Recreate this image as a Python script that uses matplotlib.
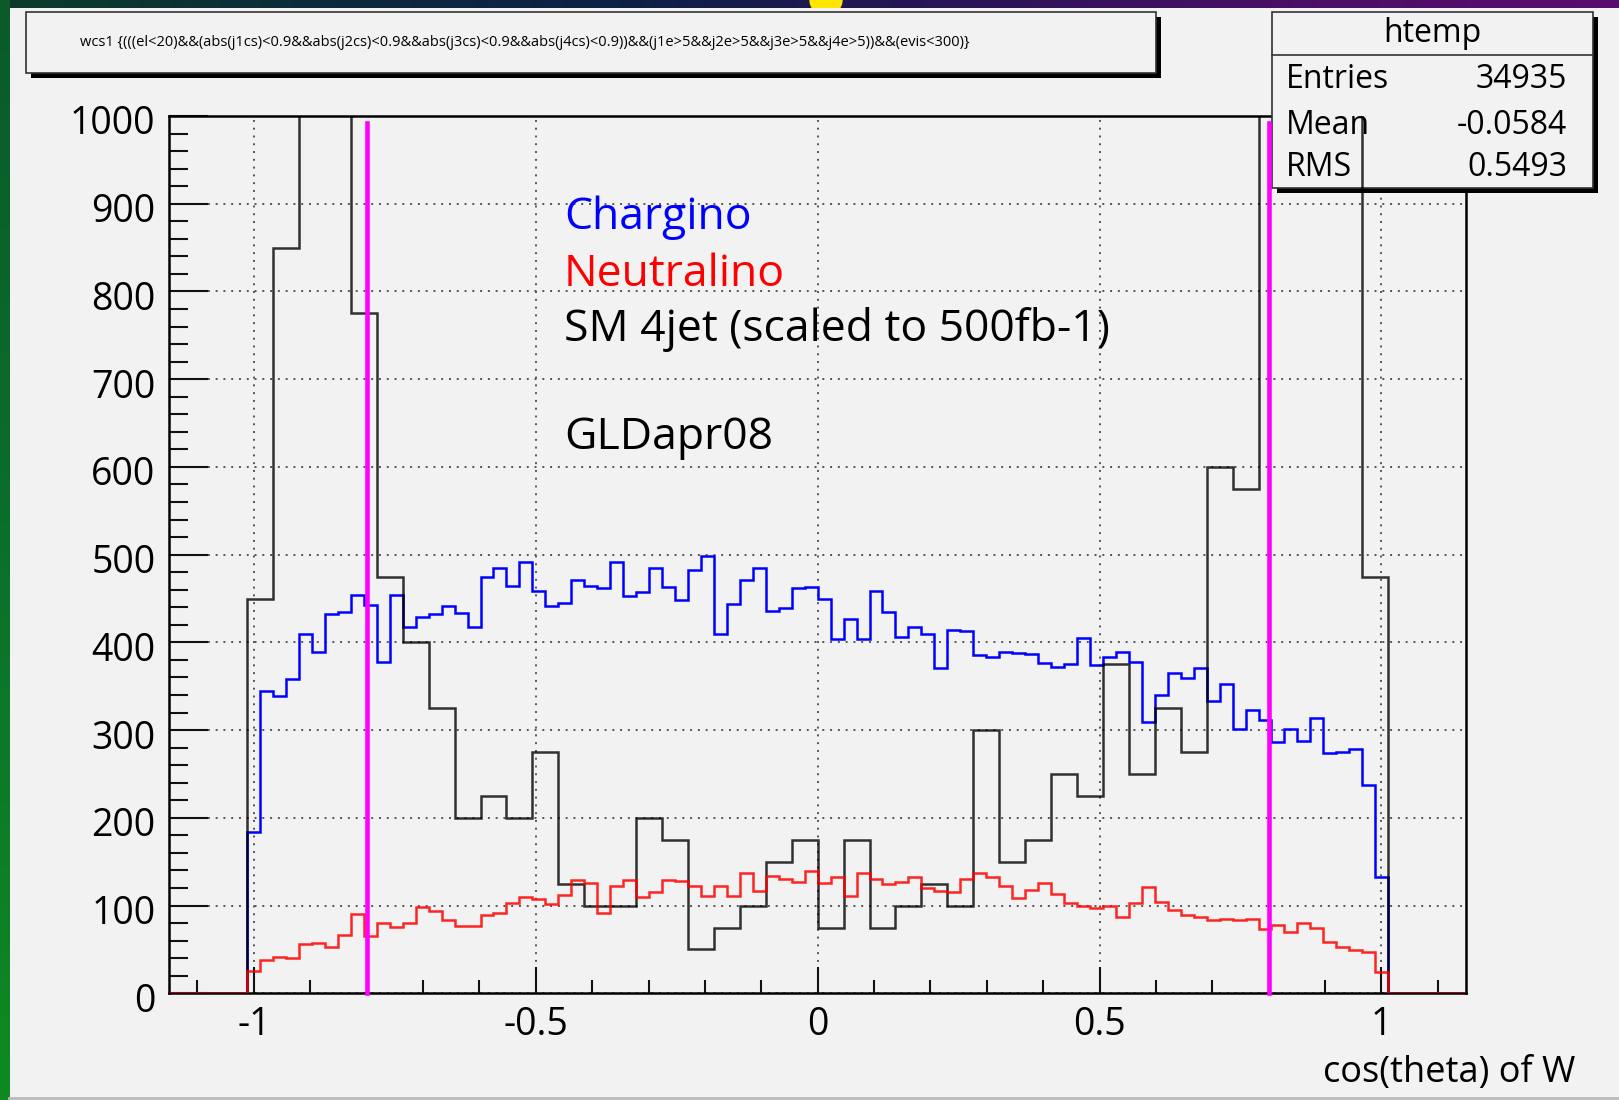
import numpy as np
import matplotlib.pyplot as plt
from matplotlib.patches import Rectangle, Ellipse
from matplotlib.lines import Line2D
from matplotlib.colors import LinearSegmentedColormap
from matplotlib.ticker import MultipleLocator
from matplotlib.transforms import ScaledTranslation

plt.rcParams['font.family'] = ['Open Sans', 'DejaVu Sans']

# binning of the ROOT histograms
x_range = (-1.15, 1.15)
n_fine = 100
n_coarse = 50

# chargino (blue), 100 bins
chargino = [
    0, 0, 0, 0, 0, 0, 184, 345, 339, 358,
    409, 389, 432, 435, 454, 443, 378, 454, 417, 429,
    432, 441, 433, 418, 475, 485, 464, 492, 459, 442,
    445, 471, 464, 462, 492, 453, 457, 485, 463, 448,
    483, 499, 409, 444, 471, 485, 436, 439, 462, 463,
    449, 404, 427, 404, 459, 435, 406, 417, 410, 371,
    414, 413, 386, 383, 389, 388, 387, 376, 372, 375,
    405, 374, 383, 389, 378, 309, 340, 365, 359, 371,
    333, 353, 301, 323, 311, 286, 301, 288, 314, 274,
    275, 278, 237, 133, 0, 0, 0, 0, 0, 0,
]

# neutralino (red), 100 bins
neutralino = [
    0, 0, 0, 0, 0, 0, 25, 38, 41, 40,
    56, 57, 53, 66, 90, 65, 80, 76, 80, 98,
    94, 83, 77, 77, 89, 92, 103, 110, 108, 102,
    112, 129, 126, 91, 122, 129, 110, 115, 129, 128,
    122, 111, 122, 111, 137, 117, 134, 130, 127, 139,
    126, 132, 111, 137, 130, 125, 127, 133, 120, 117,
    115, 130, 137, 132, 122, 109, 118, 126, 113, 103,
    99, 97, 100, 87, 103, 121, 104, 95, 89, 87,
    83, 85, 83, 85, 73, 78, 70, 80, 75, 59,
    53, 49, 47, 24, 0, 0, 0, 0, 0, 0,
]

# SM 4jet (black), 50 bins; 1100 = off scale (above 1000)
sm4jet = [
    0, 0, 0, 450, 850, 1100, 1100, 775, 475, 400,
    325, 200, 225, 200, 275, 125, 100, 100, 200, 175,
    50, 75, 100, 150, 175, 75, 175, 75, 100, 125,
    100, 300, 150, 175, 250, 225, 375, 250, 325, 275,
    600, 575, 1100, 1100, 1100, 1100, 475, 0, 0, 0,
]

cut_values = [-0.8, 0.8]
x_ticks = [-1, -0.5, 0, 0.5, 1]
x_ticklabels = ['-1', '-0.5', '0', '0.5', '1']
y_ticks = list(range(0, 1001, 100))

legend_labels = ['Chargino', 'Neutralino', 'SM 4jet (scaled to 500fb-1)', 'GLDapr08']
legend_colors = ['#0000ff', '#ff0000', 'black', 'black']
legend_y = [871, 806, 744, 620]

stats_title = 'htemp'
stats_rows = [('Entries', '34935'), ('Mean', '-0.0584'), ('RMS', '0.5493')]
title_text = ("wcs1 {(((el<20)&&(abs(j1cs)<0.9&&abs(j2cs)<0.9&&abs(j3cs)<0.9&&abs(j4cs)<0.9))"
              "&&(j1e>5&&j2e>5&&j3e>5&&j4e>5))&&(evis<300)}")

W, H = 1619, 1100
BG = '#f2f2f2'


def fx(px):
    return px / W


def fy(py):
    return 1 - py / H


fig = plt.figure(figsize=(W / 100, H / 100), dpi=100, facecolor=BG)

# slide background bits around the canvas
band_cmap = LinearSegmentedColormap.from_list(
    'band', ['#0b3d2a', '#0c2a3c', '#0e1f48', '#2a1358', '#4b0f66', '#5a0c6e'])
ax_band = fig.add_axes([0, fy(8), 1, 8 / H])
ax_band.imshow(np.linspace(0, 1, 256)[None, :], aspect='auto', cmap=band_cmap,
               extent=[0, W, 8, 0])
ax_band.add_patch(Ellipse((826, 0), 32, 30, color='#ffe600'))
ax_band.set_xlim(0, W)
ax_band.set_ylim(8, 0)
ax_band.axis('off')

strip_cmap = LinearSegmentedColormap.from_list('strip', ['#0a5a2a', '#0b702c', '#0f8a22'])
ax_strip = fig.add_axes([0, 0, fx(9), 1])
ax_strip.imshow(np.linspace(0, 1, 256)[:, None], aspect='auto', cmap=strip_cmap)
ax_strip.axis('off')

fig.add_artist(Line2D([fx(9), 1], [fy(1097.5)] * 2, color='#bbbbbb', lw=2,
                      transform=fig.transFigure))

# title box
tx0, tx1, ty0, ty1 = 26, 1156, 12, 73
fig.add_artist(Rectangle((fx(tx0 + 5), fy(ty1 + 5)), (tx1 - tx0) / W, (ty1 - ty0) / H,
                         transform=fig.transFigure, facecolor='black', edgecolor='none'))
fig.add_artist(Rectangle((fx(tx0), fy(ty1)), (tx1 - tx0) / W, (ty1 - ty0) / H,
                         transform=fig.transFigure, facecolor=BG, edgecolor='#333333', lw=1.2))
fig.text(fx(80), fy(42), title_text, fontsize=10.5, ha='left', va='center')

# main frame
ax = fig.add_axes([fx(169.3), fy(993.3), fx(1466) - fx(169.3), fy(116) - fy(993.3)])
ax.set_facecolor(BG)

edges_fine = np.linspace(x_range[0], x_range[1], n_fine + 1)
edges_coarse = np.linspace(x_range[0], x_range[1], n_coarse + 1)
ax.stairs(chargino, edges_fine, color='#0000ff', lw=1.8, zorder=3)
ax.stairs(sm4jet, edges_coarse, color='black', lw=1.8, alpha=0.8, zorder=3.1)
ax.stairs(neutralino, edges_fine, color='#ff0000', lw=1.8, alpha=0.85, zorder=3.2)

ax.vlines(cut_values, 0, 992, colors='#ff00ff', lw=3.3, zorder=4,
          clip_on=False, capstyle='projecting')

ax.set_xlim(x_range)
ax.set_ylim(0, 1000)
ax.set_xticks(x_ticks)
ax.set_xticklabels(x_ticklabels)
ax.set_yticks(y_ticks)
ax.set_yticklabels([str(v) for v in y_ticks])
ax.xaxis.set_minor_locator(MultipleLocator(0.1))
ax.yaxis.set_minor_locator(MultipleLocator(20))
ax.tick_params(which='both', direction='in', top=False, right=False, color='#111111')
ax.tick_params(axis='x', which='major', length=19, width=1.5, pad=9, labelsize=27)
ax.tick_params(axis='x', which='minor', length=9.5, width=1.5)
ax.tick_params(axis='y', which='major', length=28, width=1.5, pad=10, labelsize=27)
ax.tick_params(axis='y', which='minor', length=14, width=1.5)
ax.set_axisbelow(True)
ax.grid(True, which='major', color='#555555', linestyle=(0, (1, 3)), lw=1.4)
for s in ax.spines.values():
    s.set_linewidth(1.8)
ax.spines['top'].set_zorder(1)
ax.spines['right'].set_zorder(1)

# ROOT puts the y labels a little below the tick
shift = ScaledTranslation(0, -4 / 100, fig.dpi_scale_trans)
for lab in ax.get_yticklabels():
    lab.set_transform(lab.get_transform() + shift)

for lab, col, yv in zip(legend_labels, legend_colors, legend_y):
    ax.text(-0.45, yv, lab, color=col, fontsize=32, ha='left', va='baseline', zorder=5)

fig.text(fx(1575), fy(1082), 'cos(theta) of W', fontsize=26, ha='right', va='baseline')

# stats box (drawn below the SM histogram, like ROOT does)
bx0, bx1, by0, by1 = 1272, 1593, 12, 188
ax.add_patch(Rectangle((fx(bx0 + 5), fy(by1 + 5)), (bx1 - bx0) / W, (by1 - by0) / H,
                       transform=fig.transFigure, facecolor='black', edgecolor='none',
                       clip_on=False, zorder=1.9))
ax.add_patch(Rectangle((fx(bx0), fy(by1)), (bx1 - bx0) / W, (by1 - by0) / H,
                       transform=fig.transFigure, facecolor=BG, edgecolor='#333333', lw=1.2,
                       clip_on=False, zorder=2))
ax.add_line(Line2D([fx(bx0), fx(bx1)], [fy(55)] * 2, transform=fig.transFigure,
                   color='#333333', lw=1.2, clip_on=False, zorder=2.1))
ax.text(fx((bx0 + bx1) / 2), fy(33), stats_title, transform=fig.transFigure,
        fontsize=23, ha='center', va='center', zorder=2.2, clip_on=False)
for (name, val), ry in zip(stats_rows, [80, 125, 167]):
    ax.text(fx(1286), fy(ry), name, transform=fig.transFigure, fontsize=23,
            ha='left', va='center', zorder=2.2, clip_on=False)
    ax.text(fx(1567), fy(ry), val, transform=fig.transFigure, fontsize=23,
            ha='right', va='center', zorder=2.2, clip_on=False)

fig.savefig('out.png', dpi=100, facecolor=fig.get_facecolor())
